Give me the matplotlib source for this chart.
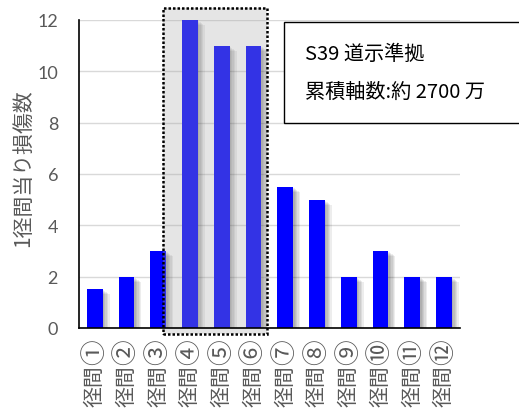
import matplotlib
matplotlib.use("Agg")
import matplotlib.pyplot as plt
from matplotlib import patheffects as pe
from matplotlib.patches import Rectangle

# Damage counts per span
spans = ["径間①", "径間②", "径間③", "径間④", "径間⑤", "径間⑥",
         "径間⑦", "径間⑧", "径間⑨", "径間⑩", "径間⑪", "径間⑫"]
damage = [1.5, 2, 3, 12, 11, 11, 5.5, 5, 2, 3, 2, 2]
yticks = [0, 2, 4, 6, 8, 10, 12]
ylabel = "1径間当り損傷数"
note_lines = ["S39 道示準拠", "累積軸数:約 2700 万"]

CJK = ["Noto Sans CJK JP", "DejaVu Sans"]
GREY = "#595959"

fig = plt.figure(figsize=(5.19, 4.10), dpi=100)
ax = fig.add_axes([0.152, 0.1976, 0.734, 0.7512])

# soft drop shadow built from stacked offset copies
shadow = [pe.SimplePatchShadow(offset=(d, -0.7 * d), shadow_rgbFace="black", alpha=0.07)
          for d in (1.0, 2.0, 3.0, 4.0, 5.0)] + [pe.Normal()]

x = list(range(len(spans)))
bars = ax.bar(x, damage, width=0.5, color="#0000ff", zorder=3)
for b in bars:
    b.set_path_effects(shadow)

ax.set_xlim(-0.5, len(spans) - 0.5)
ax.set_ylim(0, 12)
ax.set_yticks(yticks)
ax.set_xticks(x)
ax.set_xticklabels([])
ax.set_yticklabels([str(v) for v in yticks], fontfamily=["Lato", "DejaVu Sans"],
                   fontsize=13, color=GREY)
ax.tick_params(axis="y", length=0, pad=15)
ax.tick_params(axis="x", length=0)
ax.grid(axis="y", color="#d9d9d9", linewidth=1.0, zorder=0)
ax.set_axisbelow(True)
for side in ("top", "right"):
    ax.spines[side].set_visible(False)
for side in ("left", "bottom"):
    ax.spines[side].set_color("black")
    ax.spines[side].set_linewidth(1.2)
    ax.spines[side].set_zorder(5)

# vertical category labels: the circled number is set larger than "径間"
xt = ax.get_xaxis_transform()
for i, name in enumerate(spans):
    ax.annotate(name[-1], xy=(i, 0), xycoords=xt, xytext=(0, -23),
                textcoords="offset pixels", rotation=90, ha="center", va="center",
                fontfamily=CJK, fontsize=18.5, color=GREY, annotation_clip=False)
    ax.annotate(name[:-1], xy=(i, 0), xycoords=xt, xytext=(0, -57),
                textcoords="offset pixels", rotation=90, ha="center", va="center",
                fontfamily=CJK, fontsize=15, color=GREY, annotation_clip=False)

# highlighted group of spans ④〜⑥
x0, x1, y0, y1 = 2.15, 5.42, -0.23, 12.47
ax.add_patch(Rectangle((x0, y0), x1 - x0, y1 - y0, facecolor="#aaaaaa", alpha=0.3,
                       edgecolor="none", zorder=4, clip_on=False))
ax.add_patch(Rectangle((x0, y0), x1 - x0, y1 - y0, facecolor="none", edgecolor="black",
                       linestyle=(0, (1, 0.8)), linewidth=1.8, zorder=6, clip_on=False))

fig.text(23 / 519, 1 - 168 / 410, ylabel, rotation=90, ha="center", va="center",
         fontfamily=CJK, fontsize=15, color=GREY)

# annotation box
fig.patches.append(Rectangle((284 / 519, 1 - 124 / 410), 1.0, 101 / 410,
                             transform=fig.transFigure, facecolor="white",
                             edgecolor="black", linewidth=1.0, zorder=10))
fig.text(305 / 519, 1 - 54 / 410, note_lines[0], ha="left", va="center",
         fontfamily=CJK, fontsize=14.5, color="black", zorder=11)
fig.text(305 / 519, 1 - 92 / 410, note_lines[1], ha="left", va="center",
         fontfamily=CJK, fontsize=14.5, color="black", zorder=11)

fig.savefig("out.png", dpi=100)
